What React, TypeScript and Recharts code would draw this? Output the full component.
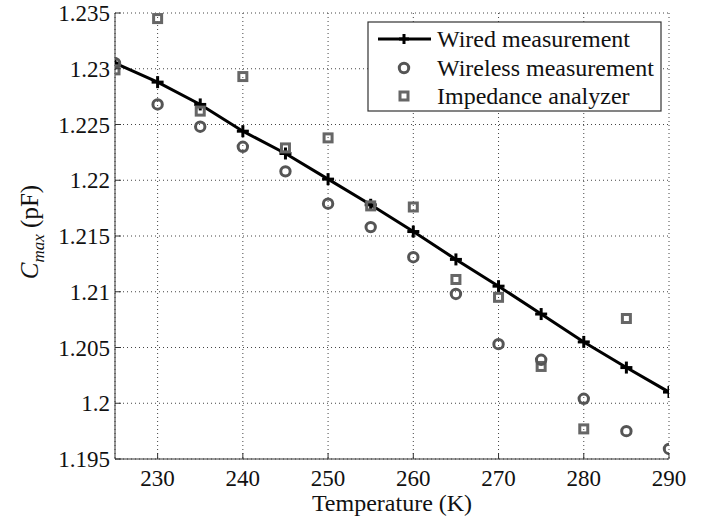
import React from 'react';
import { ComposedChart, Line, Scatter, XAxis, YAxis, CartesianGrid } from 'recharts';

// temperatures (K)
const temps = [225, 230, 235, 240, 245, 250, 255, 260, 265, 270, 275, 280, 285, 290];
const wired = [1.2305, 1.2288, 1.2268, 1.2244, 1.2224, 1.2201, 1.2178, 1.2154, 1.2129, 1.2105, 1.2080, 1.2055, 1.2032, 1.2010];
const wireless = [1.2305, 1.2268, 1.2248, 1.2230, 1.2208, 1.2179, 1.2158, 1.2131, 1.2098, 1.2053, 1.2039, 1.2004, 1.1975, 1.1959];
const impTemps = [225, 230, 235, 240, 245, 250, 255, 260, 265, 270, 275, 280, 285];
const impedance = [1.2299, 1.2345, 1.2262, 1.2293, 1.2229, 1.2238, 1.2177, 1.2176, 1.2111, 1.2095, 1.2033, 1.1977, 1.2076];

const xTicks = [230, 240, 250, 260, 270, 280, 290];
const yTicks = [1.195, 1.2, 1.205, 1.21, 1.215, 1.22, 1.225, 1.23, 1.235];

const wiredRows = temps.map((t, i) => ({ t, v: wired[i] }));
const wirelessRows = temps.map((t, i) => ({ t, v: wireless[i] }));
const impRows = impTemps.map((t, i) => ({ t, v: impedance[i] }));

const FONT = '"Liberation Serif", "Times New Roman", serif';
const FRAME = '#333';
const CIRCLE = '#555';
const SQUARE = '#666';

const Plus = ({ cx, cy, s = 6 }: { cx: number; cy: number; s?: number }) => (
  <g>
    <line x1={cx - s} x2={cx + s} y1={cy} y2={cy} stroke="#000" strokeWidth={3} />
    <line x1={cx} x2={cx} y1={cy - s} y2={cy + s} stroke="#000" strokeWidth={3} />
  </g>
);

const Ring = ({ cx, cy }: { cx: number; cy: number }) => (
  <circle cx={cx} cy={cy} r={4.7} fill="none" stroke={CIRCLE} strokeWidth={3} />
);

const Box = ({ cx, cy }: { cx: number; cy: number }) => (
  <rect x={cx - 4} y={cy - 4} width={8} height={8} fill="none" stroke={SQUARE} strokeWidth={3} />
);

const BottomTick = (p: any) => (
  <g>
    <line x1={p.x} x2={p.x} y1={p.y} y2={p.y - 6} stroke={FRAME} />
    <text x={p.x} y={p.y + 27} textAnchor="middle" fontFamily={FONT} fontSize={23} fill="#111">
      {p.payload.value}
    </text>
  </g>
);

const TopTick = (p: any) => <line x1={p.x} x2={p.x} y1={p.y} y2={p.y + 6} stroke={FRAME} />;

const LeftTick = (p: any) => (
  <g>
    <line x1={p.x} x2={p.x + 6} y1={p.y} y2={p.y} stroke={FRAME} />
    <text x={p.x - 5} y={p.y + 8} textAnchor="end" fontFamily={FONT} fontSize={23} fill="#111">
      {String(p.payload.value)}
    </text>
  </g>
);

const RightTick = (p: any) => <line x1={p.x} x2={p.x - 6} y1={p.y} y2={p.y} stroke={FRAME} />;

const LegendBox = () => {
  const x0 = 368;
  const y0 = 22;
  const rows = [39, 68, 96];
  const mx = 404;
  return (
    <g>
      <rect x={x0} y={y0} width={293} height={89} fill="#fff" stroke={FRAME} strokeWidth={1.2} />
      <line x1={378} x2={431} y1={rows[0]} y2={rows[0]} stroke="#000" strokeWidth={3} />
      <Plus cx={mx} cy={rows[0]} s={5} />
      <Ring cx={mx} cy={rows[1]} />
      <Box cx={mx} cy={rows[2]} />
      {['Wired measurement', 'Wireless measurement', 'Impedance analyzer'].map((s, i) => (
        <text key={s} x={437} y={rows[i] + 8} fontFamily={FONT} fontSize={24} fill="#111">
          {s}
        </text>
      ))}
    </g>
  );
};

export default function App() {
  return (
    <div style={{ position: 'absolute', left: 0, top: 0, width: 715, height: 519, background: '#fff' }}>
      <ComposedChart width={715} height={519} margin={{ top: 13, right: 46, bottom: 0, left: 0 }}>
        <CartesianGrid stroke="#444" strokeDasharray="1 3" />
        <XAxis
          xAxisId={0}
          type="number"
          dataKey="t"
          domain={[225, 290]}
          ticks={xTicks}
          interval={0}
          allowDataOverflow
          height={60}
          tickSize={0}
          tickMargin={0}
          stroke={FRAME}
          tick={BottomTick}
        />
        <XAxis
          xAxisId="top"
          orientation="top"
          type="number"
          dataKey="t"
          domain={[225, 290]}
          ticks={xTicks}
          interval={0}
          allowDataOverflow
          height={0}
          tickSize={0}
          tickMargin={0}
          stroke={FRAME}
          tick={TopTick}
        />
        <YAxis
          yAxisId={0}
          type="number"
          dataKey="v"
          domain={[1.195, 1.235]}
          ticks={yTicks}
          interval={0}
          allowDataOverflow
          width={115}
          tickSize={0}
          tickMargin={0}
          stroke={FRAME}
          tick={LeftTick}
        />
        <YAxis
          yAxisId="right"
          orientation="right"
          type="number"
          dataKey="v"
          domain={[1.195, 1.235]}
          ticks={yTicks}
          interval={0}
          allowDataOverflow
          width={0}
          tickSize={0}
          tickMargin={0}
          stroke={FRAME}
          tick={RightTick}
        />
        <Line
          data={wiredRows}
          dataKey="v"
          stroke="#000"
          strokeWidth={3}
          isAnimationActive={false}
          dot={(p: any) => <Plus key={p.index} cx={p.cx} cy={p.cy} />}
        />
        <Scatter
          data={impRows}
          dataKey="v"
          isAnimationActive={false}
          shape={(p: any) => <Box cx={p.cx} cy={p.cy} />}
        />
        <Scatter
          data={wirelessRows}
          dataKey="v"
          isAnimationActive={false}
          shape={(p: any) => <Ring cx={p.cx} cy={p.cy} />}
        />
        <LegendBox />
        <text x={392} y={511} textAnchor="middle" fontFamily={FONT} fontSize={24} fill="#111">
          Temperature (K)
        </text>
        <text transform="translate(38,232) rotate(-90)" textAnchor="middle" fontFamily={FONT} fontSize={25} fill="#111">
          <tspan fontStyle="italic">C</tspan>
          <tspan fontStyle="italic" fontSize={17} dy={6}>max</tspan>
          <tspan dy={-6}> (pF)</tspan>
        </text>
      </ComposedChart>
    </div>
  );
}
